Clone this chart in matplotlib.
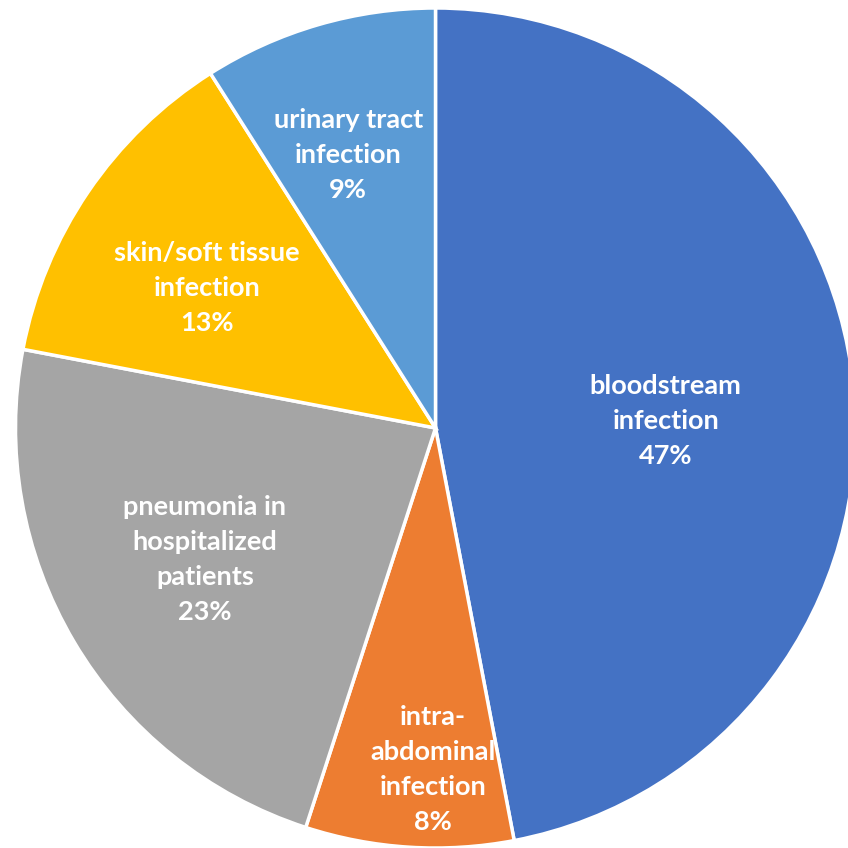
import matplotlib
matplotlib.use("Agg")
import matplotlib.pyplot as plt

categories = [
    "bloodstream\ninfection",
    "intra-\nabdominal\ninfection",
    "pneumonia in\nhospitalized\npatients",
    "skin/soft tissue\ninfection",
    "urinary tract\ninfection",
]
shares = [47, 8, 23, 13, 9]
colors = ["#4472C4", "#ED7D31", "#A5A5A5", "#FFC000", "#5B9BD5"]

# label anchor points, in units of the pie radius
label_xy = [(0.548, 0.017), (-0.006, -0.812), (-0.549, -0.314),
            (-0.544, 0.333), (-0.208, 0.650)]

W = H = 848
fig = plt.figure(figsize=(W / 100, H / 100), dpi=100)
cx, cy, r = 435.5, 848 - 428, 420
ax = fig.add_axes([(cx - r) / W, (cy - r) / H, 2 * r / W, 2 * r / H])

wedges, _ = ax.pie(
    shares,
    colors=colors,
    startangle=90,
    counterclock=False,
    radius=1.0,
    wedgeprops=dict(edgecolor="white", linewidth=2.5, clip_on=False),
)
ax.set_xlim(-1, 1)
ax.set_ylim(-1, 1)
ax.set_aspect("equal")
ax.axis("off")

for name, pct, (x, y) in zip(categories, shares, label_xy):
    ax.text(x, y, f"{name}\n{pct}%", ha="center", va="center",
            color="white", fontsize=19.5, fontweight="bold",
            family="Lato", linespacing=1.55)

fig.savefig("out.png", dpi=100)
